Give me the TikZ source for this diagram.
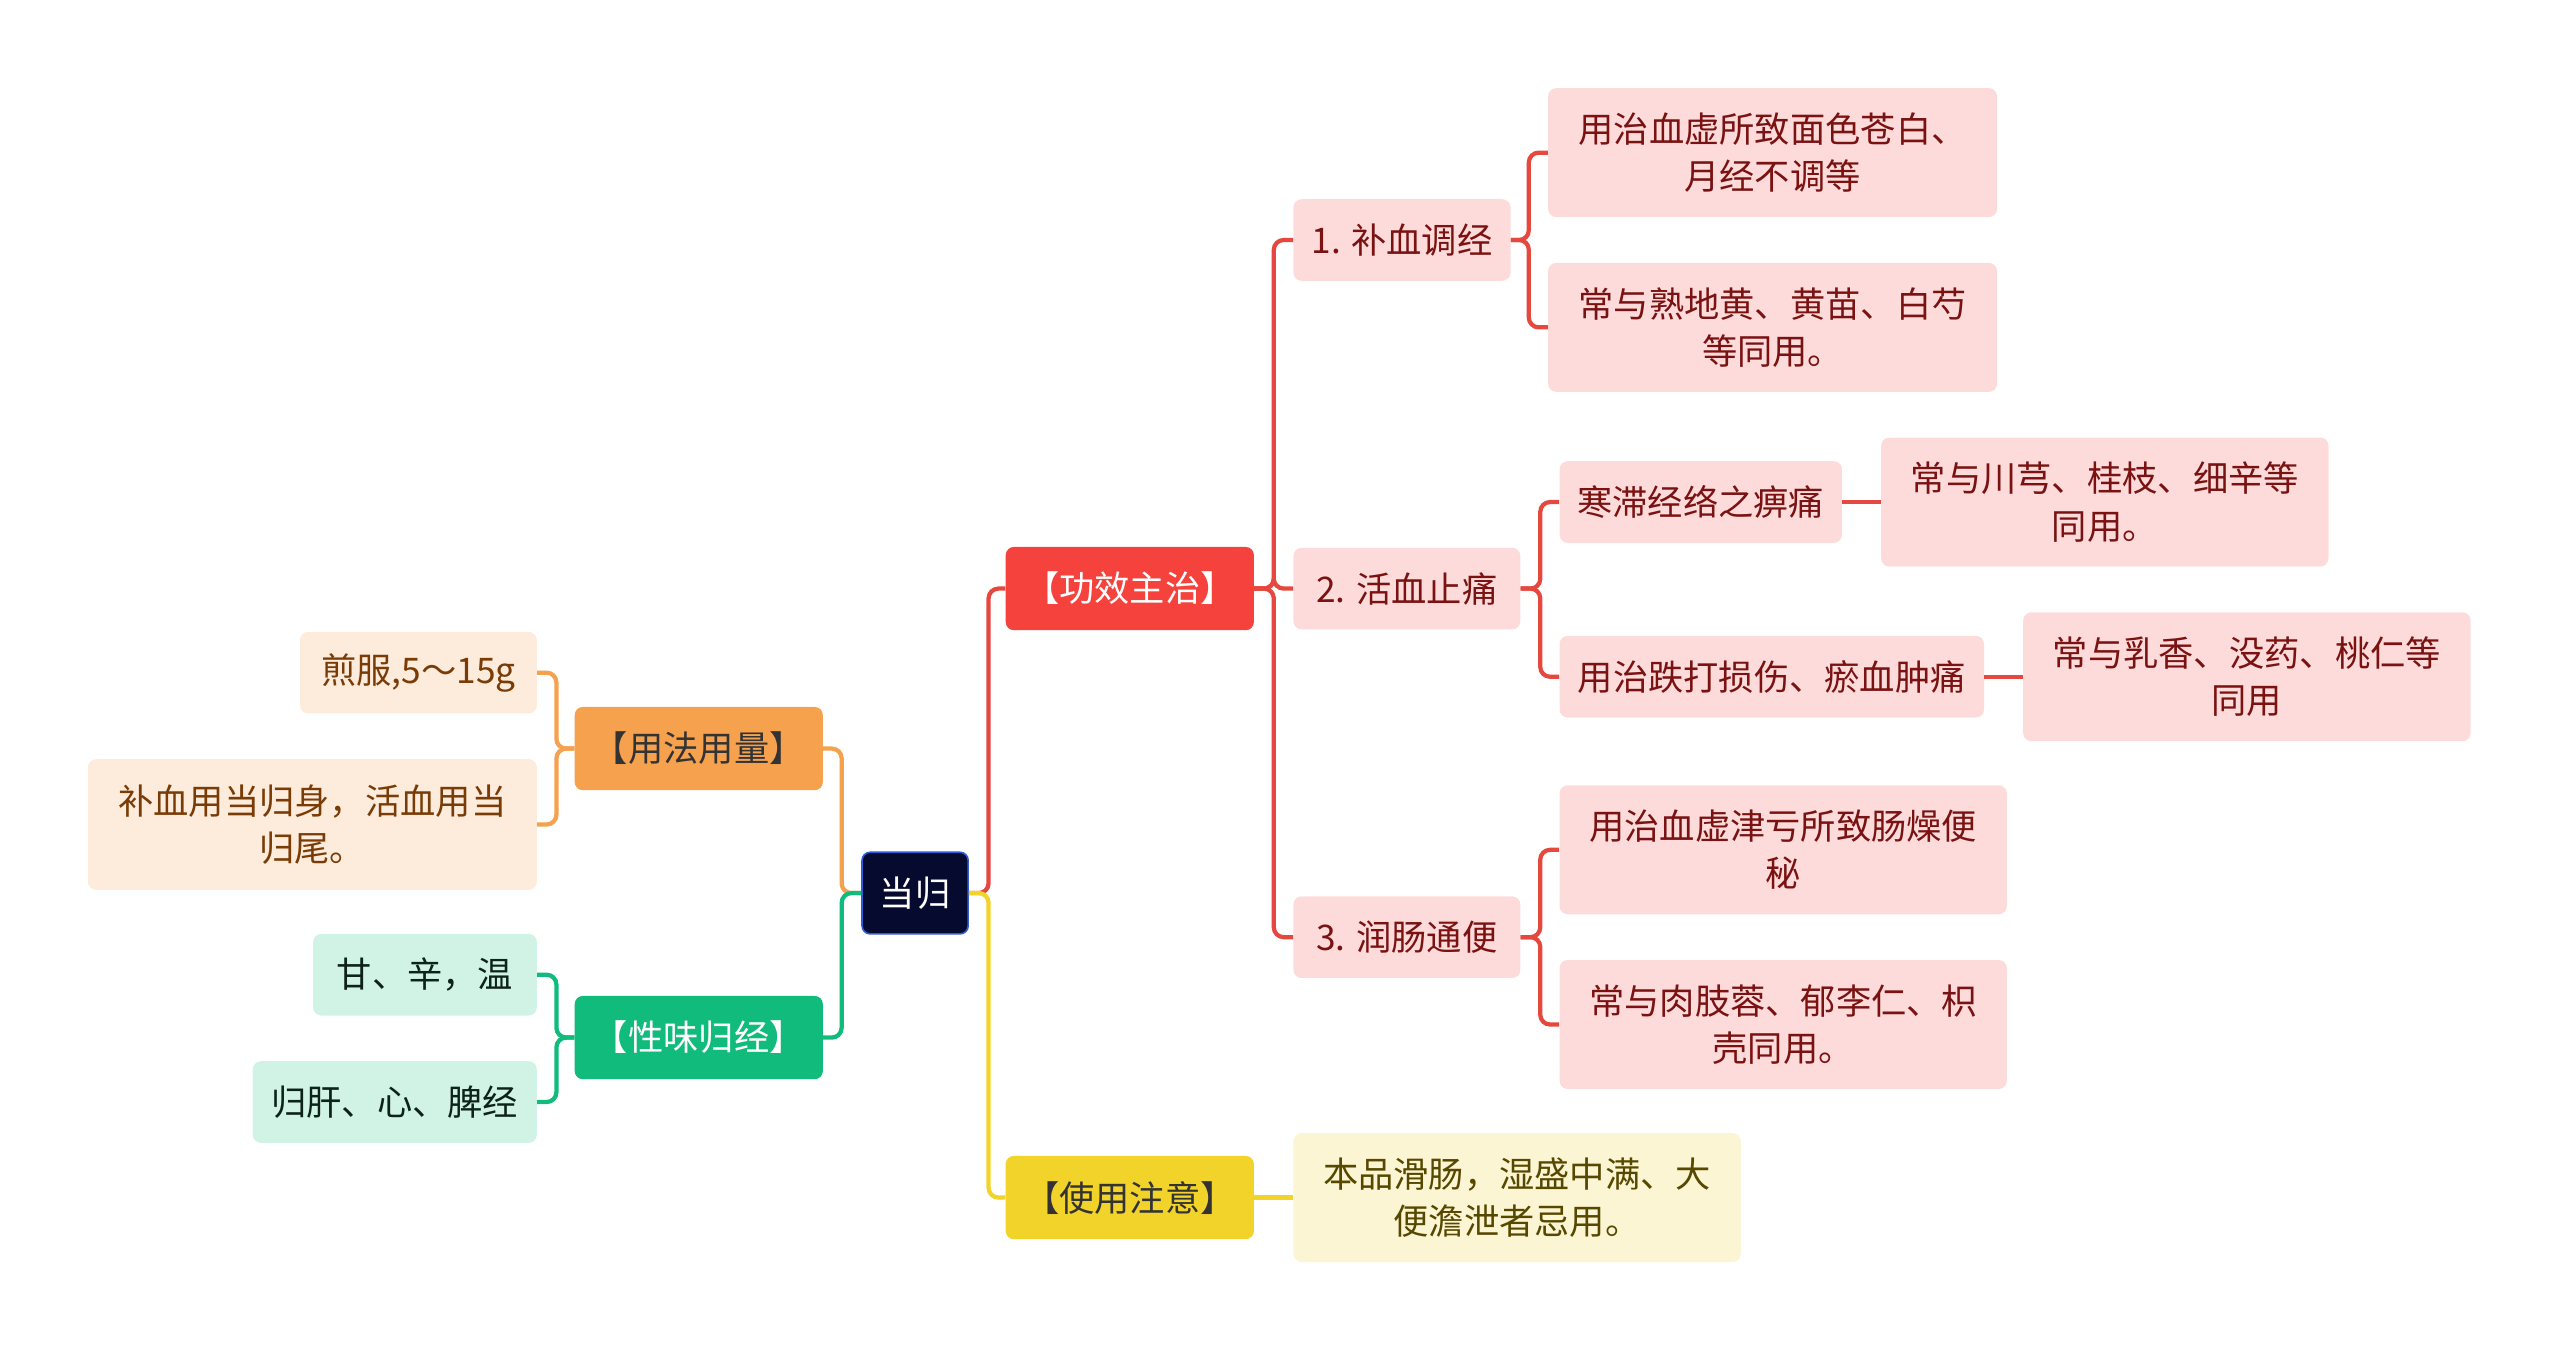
\documentclass[tikz,border=0pt]{standalone}
\usepackage{fontspec}
\setmainfont{Noto Sans CJK SC}
\usetikzlibrary{positioning}
\definecolor{rootbg}{HTML}{060A2E}
\definecolor{rootline}{HTML}{2F5BD3}
\definecolor{redmain}{HTML}{F5423D}
\definecolor{redline}{HTML}{E5483F}
\definecolor{redleaf}{HTML}{FDDBDB}
\definecolor{redtext}{HTML}{7A1212}
\definecolor{yelmain}{HTML}{F2D32A}
\definecolor{yelleaf}{HTML}{FCF5D3}
\definecolor{yeltext}{HTML}{574800}
\definecolor{orgmain}{HTML}{F5A14E}
\definecolor{orgleaf}{HTML}{FDEBDC}
\definecolor{orgtext}{HTML}{7A3C06}
\definecolor{grnmain}{HTML}{10BB7B}
\definecolor{grnleaf}{HTML}{D1F3E5}
\definecolor{grntext}{HTML}{0D2218}

\begin{document}
\begin{tikzpicture}[x=1pt, y=-1pt,
      box/.style={rounded corners=5pt, inner sep=0pt, align=center,
                  font=\fontsize{21.6}{29}\selectfont},
      main/.style={box, minimum width=152pt, minimum height=51pt},
      single/.style={box, minimum height=50pt},
      double/.style={box, minimum width=274pt, minimum height=79pt},
      link/.style={line width=2.6pt, rounded corners=6pt}
    ]
      \useasboundingbox (0,0) rectangle (1568,828);

      \node[box, fill=rootbg, draw=rootline, line width=1pt, text=white,
            minimum width=65pt, minimum height=50pt] (root) at (560.5,547) {当归};

      \node[main, fill=redmain, text=white] (gx) at (692,360.5) {【功效主治】};
      \node[main, fill=yelmain, text=black!80] (sy) at (692,733.5) {【使用注意】};
      \node[main, fill=orgmain, text=black!80] (yf) at (428,458.5) {【用法用量】};
      \node[main, fill=grnmain, text=white] (xw) at (428,635.5) {【性味归经】};

      \node[single, fill=redleaf, text=redtext, minimum width=133pt, anchor=west] (b1) at (792,147) {1. 补血调经};
      \node[single, fill=redleaf, text=redtext, minimum width=139pt, anchor=west] (b2) at (792,360.5) {2. 活血止痛};
      \node[single, fill=redleaf, text=redtext, minimum width=139pt, anchor=west] (b3) at (792,574) {3. 润肠通便};

      \node[double, fill=redleaf, text=redtext, minimum width=275pt, anchor=west] (b1a) at (948,93.5) {用治血虚所致面色苍白、\\月经不调等};
      \node[double, fill=redleaf, text=redtext, minimum width=275pt, anchor=west] (b1b) at (948,200.5) {常与熟地黄、黄苗、白芍\\等同用。};

      \node[single, fill=redleaf, text=redtext, minimum width=173pt, anchor=west] (b2a) at (955,307.5) {寒滞经络之痹痛};
      \node[double, fill=redleaf, text=redtext, anchor=west] (b2a1) at (1152,307.5) {常与川芎、桂枝、细辛等\\同用。};
      \node[single, fill=redleaf, text=redtext, minimum width=260pt, anchor=west] (b2b) at (955,414.5) {用治跌打损伤、瘀血肿痛};
      \node[double, fill=redleaf, text=redtext, anchor=west] (b2b1) at (1239,414.5) {常与乳香、没药、桃仁等\\同用};

      \node[double, fill=redleaf, text=redtext, anchor=west] (b3a) at (955,520.5) {用治血虚津亏所致肠燥便\\秘};
      \node[double, fill=redleaf, text=redtext, anchor=west] (b3b) at (955,627.5) {常与肉肢蓉、郁李仁、枳\\壳同用。};

      \node[double, fill=yelleaf, text=yeltext, anchor=west] (sy1) at (792,733.5) {本品滑肠，湿盛中满、大\\便澹泄者忌用。};

      \node[single, fill=orgleaf, text=orgtext, minimum width=145pt, anchor=east] (jf) at (329,412) {煎服,5～15g};
      \node[box, fill=orgleaf, text=orgtext, minimum width=275pt, minimum height=80pt, anchor=east] (bx) at (329,505) {补血用当归身，活血用当\\归尾。};

      \node[single, fill=grnleaf, text=grntext, minimum width=137pt, anchor=east] (gan) at (329,597) {甘、辛，温};
      \node[single, fill=grnleaf, text=grntext, minimum width=174pt, anchor=east] (gui) at (329,675) {归肝、心、脾经};

      % right side
      \draw[link, redline] (root.east) -- ++(12,0) |- (gx.west);
      \draw[link, yelmain] (root.east) -- ++(12,0) |- (sy.west);
      \foreach \n in {b1,b2,b3}
        \draw[link, redline] (gx.east) -- ++(12,0) |- (\n.west);
      \foreach \n in {b1a,b1b}
        \draw[link, redline] (b1.east) -- ++(11,0) |- (\n.west);
      \foreach \n in {b2a,b2b}
        \draw[link, redline] (b2.east) -- ++(12,0) |- (\n.west);
      \foreach \n in {b3a,b3b}
        \draw[link, redline] (b3.east) -- ++(12,0) |- (\n.west);
      \draw[link, redline] (b2a.east) -- (b2a1.west);
      \draw[link, redline] (b2b.east) -- (b2b1.west);
      \draw[link, yelmain] (sy.east) -- (sy1.west);

      % left side
      \draw[link, orgmain] (root.west) -- ++(-12,0) |- (yf.east);
      \draw[link, grnmain] (root.west) -- ++(-12,0) |- (xw.east);
      \foreach \n in {jf,bx}
        \draw[link, orgmain] (yf.west) -- ++(-11,0) |- (\n.east);
      \foreach \n in {gan,gui}
        \draw[link, grnmain] (xw.west) -- ++(-11,0) |- (\n.east);
    \end{tikzpicture}
\end{document}
